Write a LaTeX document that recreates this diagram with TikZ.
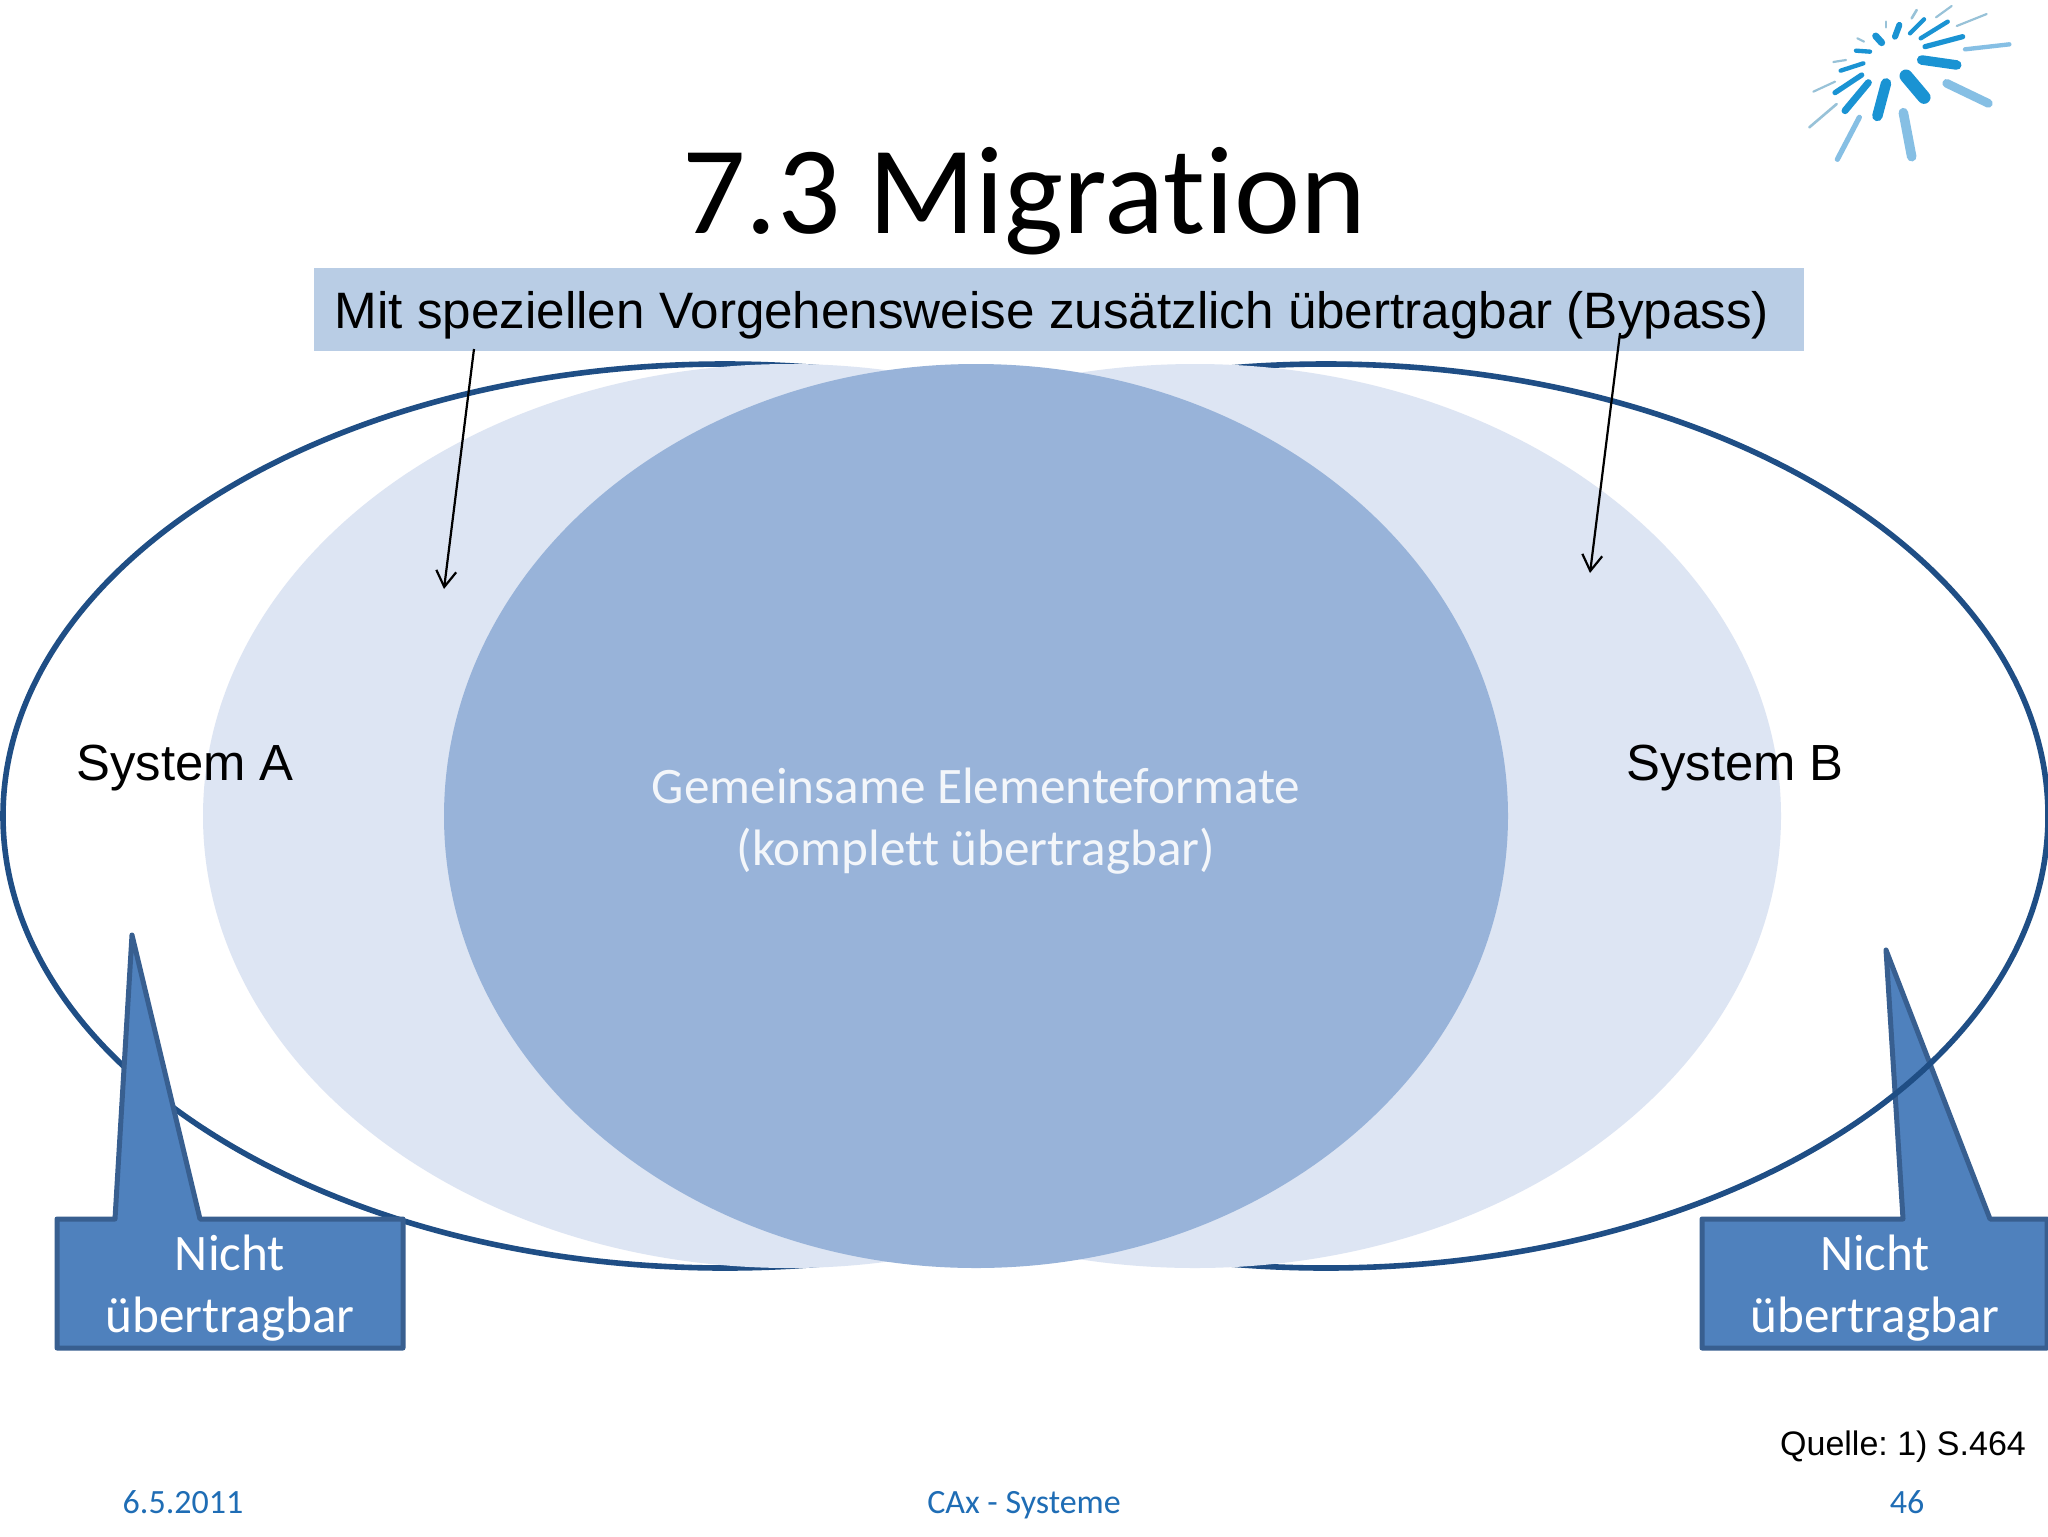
\documentclass[tikz,border=0pt]{standalone}
\usepackage{fontspec}
\setmainfont{Carlito}[Ligatures=NoCommon]
\newfontfamily\arialf{Liberation Sans}
\usetikzlibrary{shapes.geometric,arrows.meta}
\frenchspacing
\definecolor{outl}{HTML}{1F4E85}
\definecolor{lightf}{HTML}{DDE5F3}
\definecolor{midf}{HTML}{98B3D9}
\definecolor{boxf}{HTML}{4F81BD}
\definecolor{boxl}{HTML}{385F90}
\definecolor{banf}{HTML}{B9CDE5}
\definecolor{footc}{HTML}{1F6DB5}
\definecolor{logod}{HTML}{1A93D3}
\definecolor{logol}{HTML}{86BFE4}
\definecolor{logot}{HTML}{98C2D8}
\tikzset{
  x=0.5pt,y=-0.5pt,
  bigell/.style={ellipse,draw=outl,line width=2.8pt,minimum width=#1,minimum height=452pt,inner sep=0pt},
  softell/.style={ellipse,fill=#1,minimum height=452pt,inner sep=0pt},
  callout/.style={draw=boxl,fill=boxf,line width=2.5pt,line join=round},
  calltext/.style={text=white,font=\fontsize{25.6}{30.7}\selectfont,align=center,inner sep=0pt},
  sans/.style={font=\arialf\fontsize{#1}{#1}\selectfont,text=black,anchor=base,inner sep=0pt},
  foot/.style={font=\fontsize{17}{17}\selectfont,text=footc,anchor=base,inner sep=0pt},
  ptr/.style={draw=black,line width=1.1pt,-{Straight Barb[length=8pt,width=10pt]}},
  ray/.style 2 args={draw=#1,line width=#2/4.6*1pt,line cap=round}
}
\begin{document}
\begin{tikzpicture}
\useasboundingbox (0,0) rectangle (2048,1536);
\fill[white] (0,0) rectangle (2048,1536);
% logo
\begin{scope}[shift={(1780,0)},x=0.16667pt,y=-0.16667pt]
\foreach \a/\b/\c/\d/\w in {425/180/530/195/22,378/228/432/292/30,318/250/292/348/24,265/248/195/332/16,245/225/165/278/12,250/190/182/212/10,270/155/228/152/10,287/108/305/128/16,358/75/345/110/14,432/58/390/100/10,503/65/422/115/10,548/110/435/140/12}
  \draw[ray={logod}{\w}] (\a,\b) -- (\c,\d);
\foreach \a/\b/\c/\d/\w in {688/133/555/148/10,500/250/625/310/20,370/338/395/470/22,238/352/172/478/12}
  \draw[ray={logol}{\w}] (\a,\b) -- (\c,\d);
\foreach \a/\b/\c/\d/\w in {170/312/88/382/6,165/245/100/275/5,198/180/160/186/5,252/125/232/115/5,318/65/318/82/6,410/30/395/55/6,515/18/468/52/5,620/42/530/78/5}
  \draw[ray={logot}{\w}] (\a,\b) -- (\c,\d);
\end{scope}
% outlined ellipses and callouts
\node[bigell=722pt] (ella) at (725,816) {};
\draw[callout] (57,1219) -- (115,1219) -- (132,935) -- (200,1219) -- (403,1219) -- (403,1348) -- (57,1348) -- cycle;
\draw[callout] (1702,1219) -- (1903,1219) -- (1886,950) -- (1990,1219) -- (2047,1219) -- (2047,1348) -- (1702,1348) -- cycle;
\node[bigell=722pt] (ellb) at (1326,816) {};
% soft ellipses
\node[softell=lightf,minimum width=586pt] (softa) at (789,816) {};
\node[softell=lightf,minimum width=586pt] (softb) at (1195,816) {};
\node[softell=midf,minimum width=532pt] (core) at (976,816) {};
\node[text=white!88!midf,font=\fontsize{25.6}{30.7}\selectfont,align=center,inner sep=0pt] (coretext) at (976,821) {Gemeinsame Elementeformate\\(komplett übertragbar)};
% banner
\node[fill=banf,minimum width=745pt,minimum height=41.5pt,inner sep=0pt] (banner) at (1059,309.5) {};
\node[sans=25.6] (bantext) at (1052,328) {Mit speziellen Vorgehensweise zusätzlich übertragbar (Bypass)};
\node[font=\fontsize{62.6}{62.6}\selectfont,text=black,anchor=base,inner sep=0pt] (title) at (1024,233) {7.3 Migration};
% arrows
\coordinate (pa) at (474,349);
\coordinate (pae) at (444,589);
\coordinate (pb) at (1620,333);
\coordinate (pbe) at (1590,573);
\draw[ptr] (pa) -- (pae);
\draw[ptr] (pb) -- (pbe);
% labels
\node[sans=25.4] (sysa) at (185,780) {System A};
\node[sans=25.4] (sysb) at (1735,780) {System B};
\node[calltext] (na) at (230,1288) {Nicht\\übertragbar};
\node[calltext] (nb) at (1875,1288) {Nicht\\übertragbar};
\node[sans=17] (quelle) at (1903,1455) {Quelle: 1) S.464};
\node[foot] (f1) at (183,1513) {6.5.2011};
\node[foot] (f2) at (1024,1513) {CAx - Systeme};
\node[foot] (f3) at (1907,1513) {46};
\end{tikzpicture}
\end{document}
